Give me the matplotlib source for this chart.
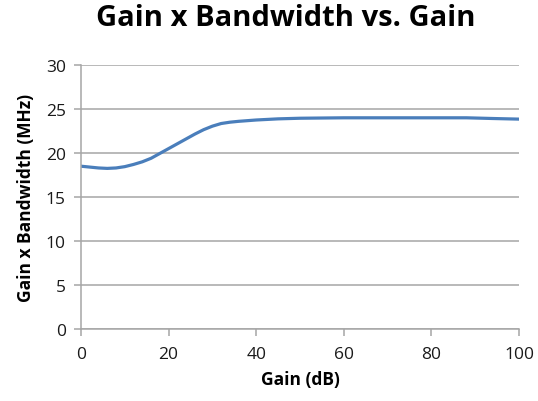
import matplotlib.pyplot as plt

plt.rcParams['font.family'] = ['Open Sans', 'DejaVu Sans']

# values
gain_db = [0, 2, 4, 6, 8, 10, 12, 14, 16, 18, 20, 22, 24, 26, 28, 30, 32, 34,
           36, 40, 45, 50, 60, 70, 80, 88, 94, 100]
gbw_mhz = [18.5, 18.4, 18.3, 18.25, 18.3, 18.45, 18.7, 19.0, 19.4, 19.95, 20.5,
           21.05, 21.6, 22.15, 22.65, 23.05, 23.35, 23.5, 23.6, 23.75, 23.88, 23.95,
           24.0, 24.0, 24.0, 24.0, 23.92, 23.85]

y_ticks = [0, 5, 10, 15, 20, 25, 30]
x_ticks = [0, 20, 40, 60, 80, 100]

fig = plt.figure(figsize=(5.38, 4.02), dpi=100)
ax = fig.add_axes([81 / 538, 72 / 402, 438 / 538, 264 / 402])

ax.plot(gain_db, gbw_mhz, color='#4a7ebb', linewidth=2.3, solid_capstyle='round')

ax.set_xlim(0, 100)
ax.set_ylim(0, 30)
ax.set_xticks(x_ticks)
ax.set_yticks(y_ticks)
ax.grid(axis='y', color='#a6a6a6', linewidth=1.1)
ax.set_axisbelow(True)

for side in ['top', 'right']:
    ax.spines[side].set_visible(False)
for side in ['left', 'bottom']:
    ax.spines[side].set_color('#a6a6a6')
    ax.spines[side].set_linewidth(1.1)
ax.tick_params(axis='both', colors='#a6a6a6', length=5, width=1.1,
               labelcolor='#1a1a1a', labelsize=12.5)
ax.tick_params(axis='x', pad=7)
ax.tick_params(axis='y', pad=6)

ax.set_xlabel('Gain (dB)', fontsize=12.5, fontweight='bold', labelpad=6)
ax.set_ylabel('Gain x Bandwidth (MHz)', fontsize=12.5, fontweight='bold', labelpad=8)
fig.suptitle('Gain x Bandwidth vs. Gain', fontsize=21, fontweight='bold',
             x=0.532, y=0.99)

fig.savefig('out.png', dpi=100)
